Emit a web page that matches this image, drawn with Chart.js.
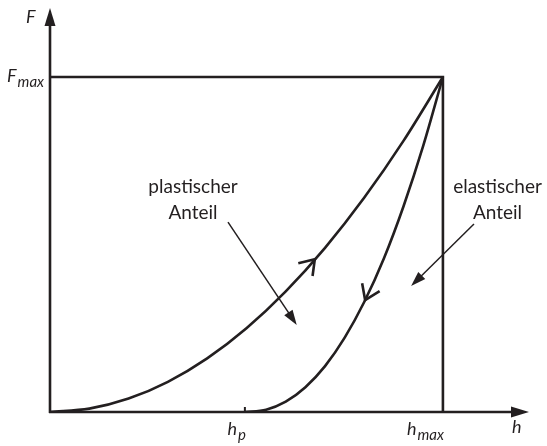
<!DOCTYPE html>
<html>
<head>
<meta charset="utf-8">
<script src="https://cdn.jsdelivr.net/npm/chart.js@4"></script>
<style>
  html, body { margin: 0; padding: 0; background: #fff; }
  #wrap { width: 547px; height: 446px; }
</style>
</head>
<body>
<div id="wrap"><canvas id="chart" width="547" height="446"></canvas></div>
<script>
// h in units of h_max, F in units of F_max
const hP = 0.496;
const hMax = 1.0;
const fMax = 1.0;

// loading branch (Belastung)
const loadH = [0, 0.1, 0.2, 0.3, 0.4, 0.5, 0.6, 0.7, 0.8, 0.9, 1.0];
const loadF = [0, 0.01, 0.04, 0.09, 0.16, 0.25, 0.36, 0.49, 0.64, 0.81, 1.0];

// unloading branch (Entlastung)
const unloadH = [0.496, 0.55, 0.6, 0.65, 0.7, 0.75, 0.8, 0.85, 0.9, 0.95, 1.0];
const unloadF = [0, 0.007, 0.031, 0.074, 0.137, 0.222, 0.329, 0.459, 0.615, 0.795, 1.0];

// F_max / h_max frame
const frameH = [0, hMax, hMax];
const frameF = [fMax, fMax, 0];

const xTickLabels = [{ v: hP, base: 'h', sub: 'p' }, { v: hMax, base: 'h', sub: 'max' }];
const yTickLabels = [{ v: fMax, base: 'F', sub: 'max' }];

// labelled arrows: text lines, text anchor, arrow start and end (data units)
const notes = [
  { lines: ['plastischer', 'Anteil'], at: [0.364, 0.654], from: [0.453, 0.567], to: [0.628, 0.260] },
  { lines: ['elastischer', 'Anteil'], at: [1.139, 0.654], from: [1.079, 0.561], to: [0.919, 0.376] }
];

// direction arrows on the curves: dataset index, h position, dir (1 = towards larger h)
const curveArrows = [{ ds: 0, h: 0.674, dir: 1 }, { ds: 1, h: 0.802, dir: -1 }];

const ink = '#231f20';
const toXY = (hs, fs) => hs.map((h, i) => ({ x: h, y: fs[i] }));
const branches = [[loadH, loadF], [unloadH, unloadF]];

// point and pixel slope on a branch at h (linear between samples)
function onBranch(hs, fs, h, x, y) {
  let i = 0;
  while (i < hs.length - 2 && hs[i + 1] < h) i++;
  const t = (h - hs[i]) / (hs[i + 1] - hs[i]);
  const f = fs[i] + t * (fs[i + 1] - fs[i]);
  const px = x.getPixelForValue(h), py = y.getPixelForValue(f);
  const dx = x.getPixelForValue(hs[i + 1]) - x.getPixelForValue(hs[i]);
  const dy = y.getPixelForValue(fs[i + 1]) - y.getPixelForValue(fs[i]);
  return { px, py, a: Math.atan2(dy, dx) };
}

// italic symbol with subscript, right edge at x
function subLabel(ctx, x, y, base, sub) {
  ctx.save();
  ctx.fillStyle = ink;
  ctx.textBaseline = 'alphabetic';
  ctx.textAlign = 'left';
  ctx.font = 'italic 18px Lato';
  const wb = ctx.measureText(base).width;
  ctx.font = 'italic 15px Lato';
  const ws = ctx.measureText(sub).width;
  const x0 = x - (wb + ws + 1);
  ctx.font = 'italic 18px Lato';
  ctx.fillText(base, x0, y);
  ctx.font = 'italic 15px Lato';
  ctx.fillText(sub, x0 + wb + 1, y + 5);
  ctx.restore();
}

function filledHead(ctx, x1, y1, x2, y2, len, half) {
  const a = Math.atan2(y2 - y1, x2 - x1);
  ctx.beginPath();
  ctx.moveTo(x2, y2);
  ctx.lineTo(x2 - len * Math.cos(a) + half * Math.sin(a), y2 - len * Math.sin(a) - half * Math.cos(a));
  ctx.lineTo(x2 - len * Math.cos(a) - half * Math.sin(a), y2 - len * Math.sin(a) + half * Math.cos(a));
  ctx.closePath();
  ctx.fill();
}

const diagram = {
  id: 'diagram',
  afterDatasetsDraw(chart) {
    const { ctx, scales: { x, y } } = chart;
    const x0 = x.getPixelForValue(0), y0 = y.getPixelForValue(0);
    const xEnd = x.getPixelForValue(x.max) + 2, yEnd = y.getPixelForValue(y.max) - 2;
    ctx.save();
    ctx.strokeStyle = ink;
    ctx.fillStyle = ink;
    ctx.lineWidth = 2.6;
    ctx.lineCap = 'butt';

    // axes
    ctx.beginPath();
    ctx.moveTo(x0, y0 + 1);
    ctx.lineTo(x0, yEnd + 14);
    ctx.moveTo(x0 - 1, y0);
    ctx.lineTo(xEnd - 14, y0);
    ctx.stroke();
    filledHead(ctx, x0, y0, x0, yEnd, 18, 5.5);
    filledHead(ctx, x0, y0, xEnd, y0, 18, 5.5);

    // hp tick
    const xp = x.getPixelForValue(hP);
    ctx.lineWidth = 2;
    ctx.beginPath();
    ctx.moveTo(xp, y0 - 5);
    ctx.lineTo(xp, y0);
    ctx.stroke();

    // curve direction chevrons
    ctx.lineWidth = 2.6;
    ctx.lineJoin = 'miter';
    curveArrows.forEach(c => {
      const [hs, fs] = branches[c.ds];
      const p = onBranch(hs, fs, c.h, x, y);
      const a = c.dir > 0 ? p.a : p.a + Math.PI;
      const len = 17, spread = 0.6;
      ctx.beginPath();
      ctx.moveTo(p.px - len * Math.cos(a - spread), p.py - len * Math.sin(a - spread));
      ctx.lineTo(p.px, p.py);
      ctx.lineTo(p.px - len * Math.cos(a + spread), p.py - len * Math.sin(a + spread));
      ctx.stroke();
    });

    // labelled arrows
    ctx.lineWidth = 1.5;
    notes.forEach(n => {
      const sx = x.getPixelForValue(n.from[0]), sy = y.getPixelForValue(n.from[1]);
      const ex = x.getPixelForValue(n.to[0]), ey = y.getPixelForValue(n.to[1]);
      const a = Math.atan2(ey - sy, ex - sx);
      ctx.beginPath();
      ctx.moveTo(sx, sy);
      ctx.lineTo(ex - 10 * Math.cos(a), ey - 10 * Math.sin(a));
      ctx.stroke();
      filledHead(ctx, sx, sy, ex, ey, 15, 5);
      ctx.font = '19px Lato';
      ctx.textAlign = 'center';
      ctx.textBaseline = 'alphabetic';
      const tx = x.getPixelForValue(n.at[0]), ty = y.getPixelForValue(n.at[1]);
      n.lines.forEach((t, i) => ctx.fillText(t, tx, ty + i * 26));
    });

    // axis names and tick labels
    ctx.font = 'italic 18px Lato';
    ctx.textAlign = 'left';
    ctx.fillText('F', 26, 23);
    ctx.fillText('h', 512, y0 + 21);
    xTickLabels.forEach(t => subLabel(ctx, x.getPixelForValue(t.v) + 1, y0 + 23, t.base, t.sub));
    yTickLabels.forEach(t => subLabel(ctx, x0 - 6, y.getPixelForValue(t.v) + 5, t.base, t.sub));
    ctx.restore();
  }
};

new Chart(document.getElementById('chart'), {
  type: 'scatter',
  data: {
    datasets: [
      { data: toXY(loadH, loadF), showLine: true, cubicInterpolationMode: 'monotone' },
      { data: toXY(unloadH, unloadF), showLine: true, cubicInterpolationMode: 'monotone' },
      { data: toXY(frameH, frameF), showLine: true, tension: 0 }
    ]
  },
  options: {
    responsive: false,
    animation: false,
    layout: { padding: { left: 50, right: 20, top: 10, bottom: 34 } },
    elements: {
      point: { radius: 0, hoverRadius: 0 },
      line: { borderColor: ink, borderWidth: 2.6, fill: false, borderCapStyle: 'butt' }
    },
    scales: {
      x: { type: 'linear', min: 0, max: 1.214, display: false },
      y: { type: 'linear', min: 0, max: 1.2, display: false }
    },
    plugins: { legend: { display: false }, tooltip: { enabled: false } }
  },
  plugins: [diagram]
});
</script>
</body>
</html>
